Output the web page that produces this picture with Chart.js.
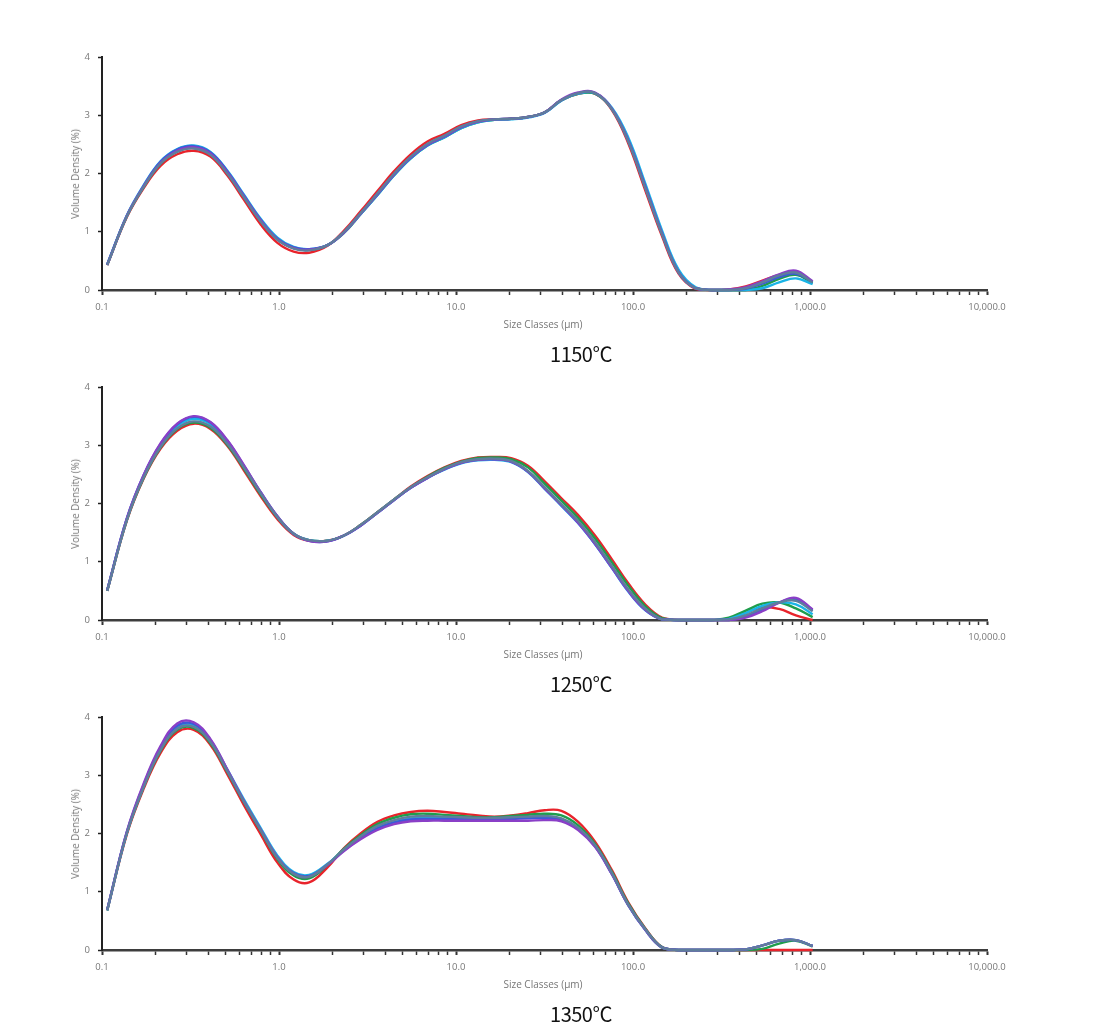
<!DOCTYPE html>
<html><head><meta charset="utf-8">
<script src="https://cdn.jsdelivr.net/npm/chart.js@4/dist/chart.umd.min.js"></script>
<style>
html,body{margin:0;padding:0;background:#fff}
body{width:1114px;height:1033px;position:relative;overflow:hidden}
.panel{position:absolute;left:0;width:1114px;height:330px}
.panel canvas{position:absolute;left:0;top:0}
.ytitle{position:absolute;left:75px;top:174px;font:10px 'Open Sans',sans-serif;color:#777;white-space:nowrap;transform:translate(-50%,-50%) rotate(-90deg)}
.xtitle{position:absolute;left:543px;top:324px;font:10px 'Open Sans',sans-serif;color:#777;white-space:nowrap;transform:translate(-50%,-50%)}
.caption{position:absolute;left:581px;top:353px;font:400 20px 'Noto Sans CJK KR',sans-serif;color:#111;white-space:nowrap;transform:translate(-50%,-50%);letter-spacing:-0.5px}
</style>
</head>
<body>
<div class="panel" id="p0" style="top:0px"><canvas id="c0" width="1114" height="330"></canvas></div>
<div class="panel" id="p1" style="top:330px"><canvas id="c1" width="1114" height="330"></canvas></div>
<div class="panel" id="p2" style="top:660px"><canvas id="c2" width="1114" height="330"></canvas></div>
<script>
// ---------- data ----------
const sizeClasses = [0.107,0.138,0.172,0.214,0.266,0.33,0.41,0.51,0.63,0.79,0.98,1.21,1.48,1.88,2.33,2.89,3.6,4.47,5.55,6.9,8.6,10.7,13.3,16.5,20.5,25.5,31.7,39.4,49,61,76,94,117,146,181,225,280,348,433,538,669,832,1035];

const xTickValues = [0.1, 1, 10, 100, 1000, 10000];
const xTickLabels = ['0.1', '1.0', '10.0', '100.0', '1,000.0', '10,000.0'];
const yTickValues = [0, 1, 2, 3, 4];
const yTickLabels = ['0', '1', '2', '3', '4'];

const captions = ['1150℃', '1250℃', '1350℃'];
const xAxisTitle = 'Size Classes (μm)';
const yAxisTitle = 'Volume Density (%)';

const seriesNames = ['Run 1', 'Run 2', 'Run 3', 'Run 4', 'Run 5', 'Run 6'];
const seriesColors = ['#e8232b', '#1f9d4c', '#1ab4e6', '#3a5bd8', '#8a3fc7', '#5f7d9c'];

// 1150 ℃
const red1150    = [0.43,1.25,1.75,2.13,2.33,2.39,2.29,1.97,1.56,1.12,0.81,0.66,0.64,0.76,1.02,1.35,1.70,2.04,2.33,2.55,2.68,2.83,2.91,2.93,2.94,2.97,3.05,3.26,3.37,3.37,3.09,2.52,1.72,0.92,0.28,0.02,0,0.01,0.06,0.16,0.26,0.31,0.14];
const green1150  = [0.43,1.26,1.77,2.17,2.38,2.44,2.33,2.01,1.61,1.18,0.87,0.72,0.69,0.77,0.98,1.30,1.63,1.97,2.26,2.48,2.62,2.78,2.88,2.92,2.94,2.97,3.05,3.26,3.37,3.37,3.11,2.57,1.78,0.97,0.31,0.03,0,0,0,0.07,0.19,0.26,0.12];
const cyan1150   = [0.44,1.28,1.80,2.21,2.42,2.48,2.37,2.05,1.65,1.22,0.90,0.74,0.70,0.77,0.99,1.30,1.63,1.97,2.26,2.48,2.62,2.78,2.88,2.92,2.93,2.96,3.04,3.25,3.37,3.38,3.13,2.62,1.84,1.02,0.35,0.05,0,0,0,0.03,0.13,0.20,0.10];
const blue1150   = [0.44,1.27,1.79,2.20,2.41,2.47,2.36,2.04,1.63,1.20,0.88,0.73,0.70,0.77,0.99,1.31,1.64,1.98,2.27,2.49,2.63,2.79,2.89,2.93,2.94,2.97,3.05,3.26,3.38,3.38,3.11,2.57,1.79,0.97,0.31,0.03,0,0,0.02,0.11,0.22,0.28,0.14];
const purple1150 = [0.43,1.27,1.78,2.18,2.39,2.45,2.34,2.02,1.62,1.19,0.87,0.72,0.69,0.77,0.99,1.31,1.65,1.99,2.28,2.50,2.64,2.80,2.89,2.93,2.94,2.97,3.05,3.27,3.39,3.39,3.11,2.56,1.77,0.96,0.30,0.03,0,0.01,0.05,0.15,0.27,0.33,0.15];
const steel1150  = [0.43,1.26,1.77,2.17,2.37,2.43,2.32,2.00,1.60,1.17,0.86,0.71,0.68,0.77,1.00,1.32,1.66,2.00,2.29,2.51,2.65,2.81,2.90,2.93,2.94,2.97,3.05,3.26,3.38,3.38,3.10,2.55,1.76,0.95,0.30,0.03,0,0,0.03,0.13,0.25,0.30,0.13];

// 1250 ℃
const red1250    = [0.50,1.70,2.43,2.94,3.25,3.37,3.28,2.99,2.58,2.12,1.73,1.46,1.36,1.36,1.45,1.63,1.85,2.07,2.29,2.47,2.62,2.73,2.79,2.80,2.78,2.65,2.38,2.09,1.80,1.45,1.04,0.63,0.27,0.04,0,0,0,0.02,0.12,0.22,0.19,0.08,0];
const green1250  = [0.50,1.71,2.44,2.96,3.28,3.39,3.30,3.01,2.61,2.15,1.76,1.48,1.37,1.36,1.45,1.63,1.85,2.07,2.28,2.46,2.61,2.72,2.78,2.79,2.76,2.62,2.34,2.05,1.75,1.40,0.99,0.59,0.24,0.03,0,0,0,0.04,0.16,0.28,0.30,0.20,0.05];
const cyan1250   = [0.51,1.73,2.47,3.00,3.33,3.45,3.36,3.06,2.65,2.18,1.77,1.48,1.37,1.36,1.45,1.62,1.84,2.06,2.27,2.44,2.58,2.69,2.74,2.75,2.71,2.54,2.25,1.96,1.66,1.30,0.89,0.49,0.17,0.01,0,0,0,0.02,0.12,0.24,0.30,0.27,0.10];
const blue1250   = [0.51,1.74,2.49,3.02,3.36,3.49,3.39,3.08,2.66,2.19,1.78,1.48,1.36,1.35,1.45,1.62,1.84,2.06,2.27,2.44,2.59,2.70,2.75,2.76,2.72,2.55,2.26,1.97,1.67,1.31,0.90,0.50,0.18,0.01,0,0,0,0,0.06,0.18,0.30,0.36,0.17];
const purple1250 = [0.51,1.74,2.49,3.03,3.37,3.50,3.40,3.09,2.67,2.19,1.78,1.48,1.36,1.35,1.45,1.62,1.84,2.06,2.27,2.44,2.59,2.70,2.75,2.76,2.72,2.55,2.26,1.97,1.67,1.31,0.90,0.50,0.18,0.01,0,0,0,0,0.04,0.15,0.30,0.38,0.18];
const steel1250  = [0.50,1.71,2.45,2.97,3.29,3.41,3.32,3.03,2.63,2.17,1.77,1.48,1.37,1.36,1.45,1.63,1.85,2.07,2.28,2.45,2.60,2.71,2.76,2.77,2.73,2.56,2.28,1.99,1.70,1.34,0.93,0.53,0.20,0.01,0,0,0,0.01,0.08,0.20,0.30,0.33,0.15];

// 1350 ℃
const red1350    = [0.68,1.98,2.77,3.38,3.74,3.78,3.52,3.02,2.50,1.98,1.50,1.21,1.16,1.42,1.75,2.00,2.20,2.31,2.37,2.39,2.37,2.34,2.31,2.29,2.31,2.35,2.40,2.39,2.20,1.86,1.37,0.82,0.38,0.05,0,0,0,0,0,0,0,0,0];
const green1350  = [0.68,2.00,2.80,3.42,3.78,3.81,3.55,3.06,2.55,2.04,1.56,1.28,1.23,1.46,1.74,1.97,2.16,2.27,2.33,2.34,2.32,2.30,2.28,2.28,2.30,2.32,2.34,2.31,2.14,1.82,1.34,0.80,0.37,0.05,0,0,0,0,0,0.02,0.11,0.16,0.06];
const cyan1350   = [0.68,2.01,2.82,3.45,3.82,3.85,3.59,3.10,2.60,2.09,1.62,1.34,1.29,1.48,1.72,1.93,2.10,2.20,2.26,2.27,2.27,2.26,2.26,2.26,2.27,2.28,2.29,2.25,2.09,1.79,1.31,0.77,0.35,0.04,0,0,0,0,0.01,0.08,0.16,0.17,0.07];
const blue1350   = [0.69,2.02,2.84,3.47,3.85,3.88,3.60,3.09,2.57,2.06,1.59,1.32,1.27,1.47,1.71,1.92,2.09,2.19,2.24,2.25,2.25,2.25,2.24,2.24,2.25,2.26,2.27,2.24,2.08,1.78,1.30,0.77,0.35,0.04,0,0,0,0,0.01,0.08,0.16,0.17,0.07];
const purple1350 = [0.69,2.03,2.86,3.50,3.89,3.91,3.62,3.10,2.57,2.06,1.59,1.31,1.26,1.46,1.70,1.90,2.06,2.16,2.21,2.22,2.22,2.22,2.22,2.22,2.22,2.22,2.23,2.21,2.06,1.77,1.30,0.77,0.35,0.04,0,0,0,0,0.01,0.08,0.16,0.17,0.07];
const steel1350  = [0.68,2.00,2.80,3.43,3.80,3.83,3.57,3.07,2.56,2.05,1.58,1.31,1.26,1.47,1.73,1.95,2.13,2.23,2.29,2.30,2.29,2.28,2.27,2.27,2.28,2.29,2.30,2.26,2.10,1.80,1.32,0.78,0.36,0.04,0,0,0,0,0.01,0.08,0.16,0.17,0.07];

const panels = [
  [red1150, green1150, cyan1150, blue1150, purple1150, steel1150],
  [red1250, green1250, cyan1250, blue1250, purple1250, steel1250],
  [red1350, green1350, cyan1350, blue1350, purple1350, steel1350]
];

// ---------- axis tick positions (decades and their 2..9 minors) ----------
const allXTicks = [];
for (let d = 0; d < xTickValues.length - 1; d++) {
  for (let m = 1; m <= 9; m++) allXTicks.push(Number((xTickValues[d] * m).toPrecision(6)));
}
allXTicks.push(xTickValues[xTickValues.length - 1]);
const isDecade = v => xTickValues.some(t => Math.abs(t - v) < t * 1e-6);
const labelFor = v => { const i = xTickValues.findIndex(t => Math.abs(t - v) < t * 1e-6); return i >= 0 ? xTickLabels[i] : ''; };

const tickFont = {size: 9.5, family: "'Open Sans', sans-serif"};

function makeChart(canvas, series) {
  return new Chart(canvas, {
    type: 'line',
    data: {
      datasets: series.map((vals, i) => ({
        label: seriesNames[i],
        data: sizeClasses.map((x, j) => ({x: x, y: vals[j]})),
        borderColor: seriesColors[i],
        backgroundColor: seriesColors[i],
        borderWidth: 2.4,
        pointRadius: 0,
        fill: false,
        tension: 0.4,
        order: series.length - 1 - i,
        clip: 4
      }))
    },
    options: {
      responsive: false,
      animation: false,
      devicePixelRatio: 1,
      layout: {padding: {left: 0, right: 127, top: 57, bottom: 0}},
      plugins: {legend: {display: false}, tooltip: {enabled: false}, title: {display: false}},
      scales: {
        x: {
          type: 'logarithmic', min: 0.1, max: 10000,
          afterBuildTicks: s => { s.ticks = allXTicks.map(v => ({value: v, major: isDecade(v)})); },
          afterFit: s => { s.height = 40; },
          border: {display: true, color: '#3d3d3d', width: 2.5},
          grid: {drawOnChartArea: false, drawTicks: true, tickLength: 5, tickColor: '#333',
                 tickWidth: ctx => (ctx.tick && isDecade(ctx.tick.value)) ? 2 : 1.5},
          ticks: {autoSkip: false, maxRotation: 0, minRotation: 0, padding: 7, color: '#777', font: tickFont,
                  callback: v => labelFor(v)}
        },
        y: {
          type: 'linear', min: 0, max: 4,
          afterBuildTicks: s => { s.ticks = yTickValues.map(v => ({value: v})); },
          afterFit: s => { s.width = 102; },
          border: {display: true, color: '#222', width: 2},
          grid: {drawOnChartArea: false, drawTicks: true, tickLength: 4, tickColor: '#222', tickWidth: 1.5},
          ticks: {padding: 8, color: '#777', font: tickFont,
                  callback: v => { const i = yTickValues.indexOf(v); return i >= 0 ? yTickLabels[i] : ''; }}
        }
      }
    }
  });
}

panels.forEach((series, k) => {
  const panel = document.getElementById('p' + k);
  const yt = document.createElement('div'); yt.className = 'ytitle'; yt.textContent = yAxisTitle; panel.appendChild(yt);
  const xt = document.createElement('div'); xt.className = 'xtitle'; xt.textContent = xAxisTitle; panel.appendChild(xt);
  const cap = document.createElement('div'); cap.className = 'caption'; cap.textContent = captions[k]; panel.appendChild(cap);
  makeChart(document.getElementById('c' + k), series);
});
</script>
</body></html>
